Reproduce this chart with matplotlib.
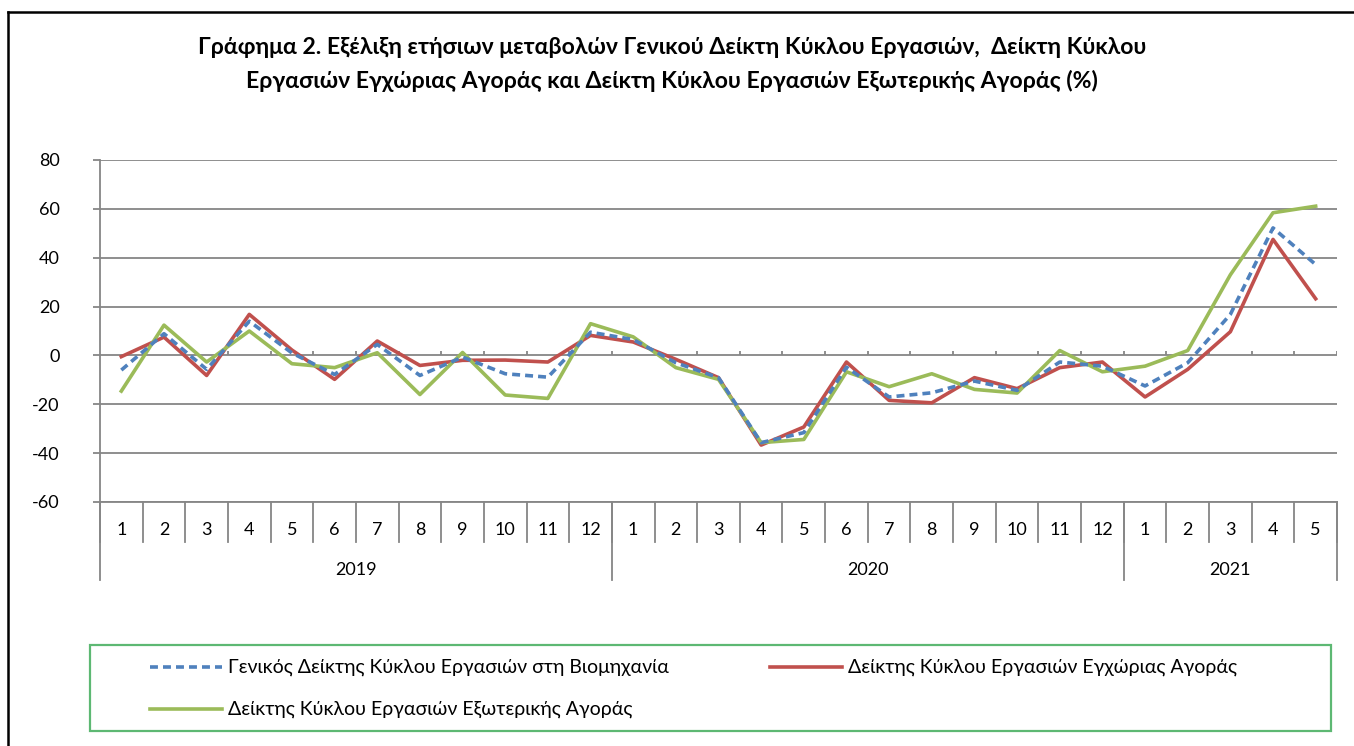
import numpy as np
import matplotlib.pyplot as plt
from matplotlib.lines import Line2D
from matplotlib.patches import Rectangle
import matplotlib.transforms as mtransforms

plt.rcParams['font.family'] = ['Lato', 'DejaVu Sans']
plt.rcParams['axes.unicode_minus'] = False

years = ['2019', '2020', '2021']
months_per_year = [12, 12, 5]
month_labels = [str(m) for n in months_per_year for m in range(1, n + 1)]

general = [-6, 8.9, -5.7, 14, 1, -7.8, 4.5, -8.2, -0.7, -7.5, -8.9, 9.5,
           6.5, -3, -9.1, -35.7, -31.6, -4.8, -17, -15.3, -10.5, -14.3, -2.7, -4.4,
           -12.5, -3, 16.8, 52.2, 37.2]
domestic = [-0.5, 7.5, -8.2, 16.8, 2.2, -9.8, 5.9, -4.1, -2, -1.9, -2.7, 8.2,
            5.5, -1.6, -9.1, -36.7, -29.3, -2.7, -18.4, -19.4, -9.1, -13.6, -5, -2.7,
            -17, -5.7, 9.7, 47.5, 23.2]
external = [-14.6, 12.4, -2.7, 10, -3.4, -5, 1.1, -16, 1.2, -16.2, -17.6, 13,
            7.6, -5, -9.8, -35.7, -34.4, -6.7, -12.8, -7.5, -13.9, -15.4, 2, -6.7,
            -4.4, 2, 33, 58.4, 61.1]

names = ['Γενικός Δείκτης Κύκλου Εργασιών στη Βιομηχανία',
         'Δείκτης Κύκλου Εργασιών Εγχώριας Αγοράς',
         'Δείκτης Κύκλου Εργασιών Εξωτερικής Αγοράς']
colors = ['#4F81BD', '#C0504D', '#9BBB59']
styles = [(0, (2.2, 1.4)), '-', '-']

W, H = 1354, 746
fig = plt.figure(figsize=(W / 100, H / 100), dpi=100)
ax = fig.add_axes([100 / W, 1 - 502 / H, (1337 - 100) / W, (502 - 160) / H])

x = np.arange(len(month_labels))
grid_c = '#868686'
for y in range(-60, 81, 20):
    ax.axhline(y, color=grid_c, lw=1.3, zorder=1)

ax.plot(x, general, color=colors[0], lw=2.6, ls=styles[0], zorder=4)
ax.plot(x, domestic, color=colors[1], lw=2.6, zorder=3)
ax.plot(x, external, color=colors[2], lw=2.6, zorder=3)

ax.set_xlim(-0.5, len(x) - 0.5)
ax.set_ylim(-60, 80)
ax.set_yticks(range(-60, 81, 20))
for s in ['top', 'right']:
    ax.spines[s].set_visible(False)
for s in ['left', 'bottom']:
    ax.spines[s].set_color(grid_c)
    ax.spines[s].set_linewidth(1.3)
ax.tick_params(axis='y', length=5, color=grid_c, width=1.3, labelsize=13, pad=24)
ax.set_xticks([])

# small ticks on the zero line
bounds = np.arange(-0.5, len(x) + 0.5, 1.0)
ax.vlines(bounds[1:], 0, 1.8, color=grid_c, lw=1.3, zorder=2)

trans = mtransforms.blended_transform_factory(ax.transData, ax.transAxes)
ax_h = (502 - 160)
for b in bounds:
    ax.add_line(Line2D([b, b], [0, -40 / ax_h], transform=trans, color=grid_c,
                       lw=1.3, clip_on=False))
for i, lab in enumerate(month_labels):
    ax.text(i, -28 / ax_h, lab, transform=trans, ha='center', va='center', fontsize=13)

start = 0
year_bounds = [-0.5]
for yr, n in zip(years, months_per_year):
    ax.text(start + (n - 1) / 2, -68 / ax_h, yr, transform=trans, ha='center',
            va='center', fontsize=13)
    start += n
    year_bounds.append(start - 0.5)
for b in year_bounds:
    ax.add_line(Line2D([b, b], [0, -78 / ax_h], transform=trans, color=grid_c,
                       lw=1.3, clip_on=False))

fig.text(672 / W, 1 - 47 / H,
         'Γράφημα 2. Εξέλιξη ετήσιων μεταβολών Γενικού Δείκτη Κύκλου Εργασιών,  Δείκτη Κύκλου',
         ha='center', va='center', fontsize=16.6, fontweight='bold')
fig.text(672 / W, 1 - 81 / H,
         'Εργασιών Εγχώριας Αγοράς και Δείκτη Κύκλου Εργασιών Εξωτερικής Αγοράς (%)',
         ha='center', va='center', fontsize=16.6, fontweight='bold')

# outer frame
fig.add_artist(Line2D([8 / W, 8 / W], [0, 1 - 12 / H], transform=fig.transFigure,
                      color='black', lw=1.8))
fig.add_artist(Line2D([8 / W, 1], [1 - 12 / H, 1 - 12 / H], transform=fig.transFigure,
                      color='black', lw=1.8))

# legend
fig.add_artist(Rectangle((90 / W, 1 - 731 / H), (1331 - 90) / W, (731 - 645) / H,
                         transform=fig.transFigure, fill=False, edgecolor='#5DB873', lw=1.6))
leg_pos = [(150, 667), (770, 667), (150, 709)]
for (px, py), name, c, st in zip(leg_pos, names, colors, styles):
    fig.add_artist(Line2D([px / W, (px + 72) / W], [1 - py / H, 1 - py / H],
                          transform=fig.transFigure, color=c, lw=2.6, ls=st))
    fig.text((px + 78) / W, 1 - py / H, name, ha='left', va='center', fontsize=14)

fig.savefig('out.png', dpi=100)
